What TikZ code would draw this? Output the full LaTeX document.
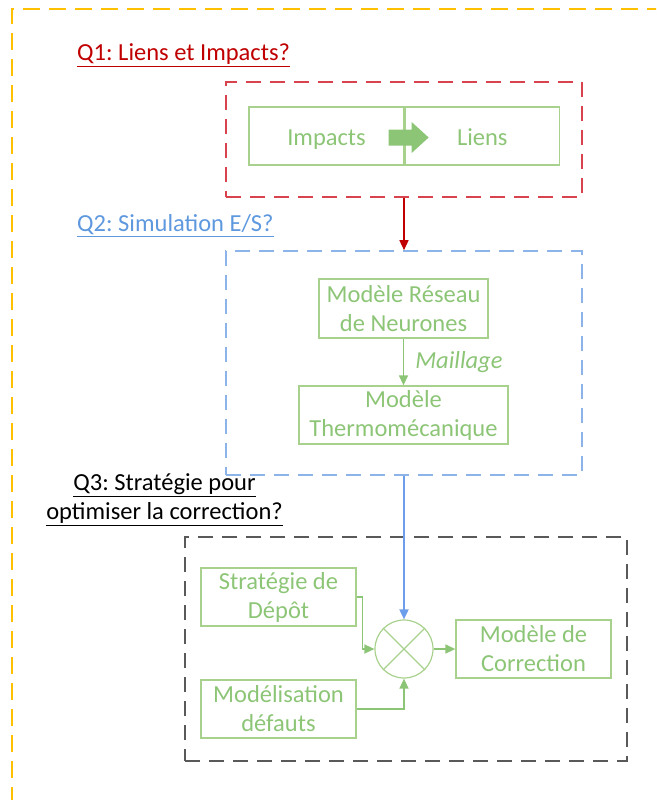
\documentclass[tikz,border=0pt]{standalone}
\usepackage{fontspec}
\setmainfont{Carlito}
\usetikzlibrary{arrows.meta,positioning}
\definecolor{goldline}{HTML}{FFC000}
\definecolor{qred}{HTML}{C00000}
\definecolor{redframe}{HTML}{D9434E}
\definecolor{qblue}{HTML}{5E98DE}
\definecolor{blueframe}{HTML}{8DB4E8}
\definecolor{bluelink}{HTML}{6D9EEB}
\definecolor{grayframe}{HTML}{595959}
\definecolor{boxgreen}{HTML}{A9D18E}
\definecolor{txtgreen}{HTML}{8DC577}
\frenchspacing

\begin{document}
\begin{tikzpicture}[
  x=1pt,y=-1pt,
  font=\fontsize{24.5}{29}\selectfont,
  block/.style={draw=boxgreen,line width=1.3pt,text=txtgreen,align=center,inner sep=0pt},
  oneline/.style={text height=20pt,text depth=2pt},
  frame/.style={draw,dash pattern=on 15pt off 9pt,line width=1.6pt,inner sep=0pt},
  question/.style={align=center,inner sep=0pt},
  flow/.style={line width=1.5pt,-{Triangle[length=10pt,width=9pt]}}
]
  \useasboundingbox (0,0) rectangle (656,800);
  \clip (0,0) rectangle (656,800);

  % outer frame, cut by the page
  \draw[goldline,dash pattern=on 17pt off 9pt,line width=1.8pt] (12,830) |- (690,9);

  % Q1
  \node[question,anchor=west,text=qred] (q1) at (77,55) {\underline{Q1: Liens et Impacts?}};
  \node[frame,draw=redframe,minimum width=356pt,minimum height=115pt] (q1box) at (404,139.5) {};
  \node[block,oneline,minimum width=155pt,minimum height=58pt] (impacts) at (326.5,136) {Impacts};
  \node[block,oneline,minimum width=154pt,minimum height=58pt,right=0pt of impacts] (liens) {Liens};
  \fill[txtgreen] (impacts.east) ++(-16,-6.5) -- ++(23,0) -- ++(0,-7.5) -- ++(17,15.5)
    -- ++(-17,15.5) -- ++(0,-7.5) -- ++(-23,0) -- cycle;

  % Q2
  \node[question,anchor=west,text=qblue] (q2) at (77,226) {\underline{Q2: Simulation E/S?}};
  \node[frame,draw=blueframe,minimum width=356pt,minimum height=224pt] (q2box) at (404,363) {};
  \node[block,minimum width=169pt,minimum height=59pt] (reseau) at (403.5,308.5) {Modèle Réseau\\de Neurones};
  \node[block,minimum width=209pt,minimum height=58pt] (thermo) at (403.5,415) {Modèle\\Thermomécanique};

  % Q3
  \node[question] (q3) at (164.5,500) {\underline{Q3: Stratégie pour}\\\underline{optimiser la correction?}};
  \node[frame,draw=grayframe,minimum width=442pt,minimum height=224pt] (q3box) at (406,649) {};
  \node[block,minimum width=155pt,minimum height=58pt] (depot) at (278.5,597) {Stratégie de\\Dépôt};
  \node[block,minimum width=155pt,minimum height=58pt] (defauts) at (278.5,709) {Modélisation\\défauts};
  \node[draw=boxgreen,line width=1.2pt,circle,minimum size=58pt,inner sep=0pt] (mix) at (404,649) {};
  \draw[boxgreen,line width=1.2pt] (mix.north east) -- (mix.south west)
    (mix.north west) -- (mix.south east);
  \node[block,minimum width=155pt,minimum height=58pt] (correction) at (533.5,649) {Modèle de\\Correction};

  % links
  \draw[flow,qred] (q1box.south) -- (q2box.north);
  \draw[flow,txtgreen] (reseau) -- node[right=11pt,inner sep=0pt,font=\fontsize{24.5}{29}\selectfont\itshape,text=txtgreen]{Maillage} (thermo);
  \draw[flow,bluelink,line width=1.8pt] (q2box.south) -- (mix.north);
  \draw[flow,txtgreen] (depot.east) -- ++(6,0) |- (mix.west);
  \draw[flow,txtgreen] (defauts.east) -| (mix.south);
  \draw[flow,txtgreen] (mix.east) -- (correction.west);
\end{tikzpicture}
\end{document}
